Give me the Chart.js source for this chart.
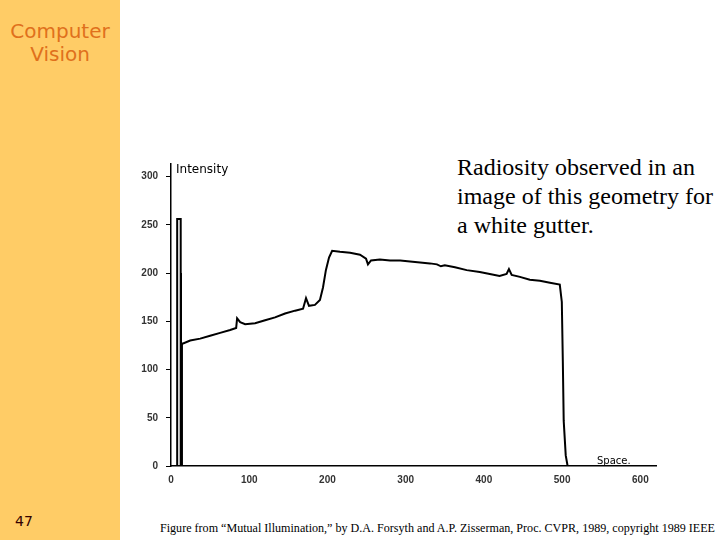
<!DOCTYPE html>
<html>
<head>
<meta charset="utf-8">
<script src="https://cdn.jsdelivr.net/npm/chart.js@4"></script>
<style>
  html, body { margin:0; padding:0; background:#ffffff; }
  body { width:720px; height:540px; position:relative; overflow:hidden; }
  #side { position:absolute; left:0; top:0; width:120px; height:540px; background:#FFCC66; }
  #title { position:absolute; left:0; top:20px; width:120px; text-align:center; font-family:"DejaVu Sans", sans-serif; font-size:20px; line-height:23px; color:#E0701C; }
  #page { position:absolute; left:15px; top:513px; font-family:"DejaVu Sans", sans-serif; font-size:14px; color:#330000; }
  #desc { position:absolute; left:457px; top:153px; width:262px; font-family:"Liberation Serif", serif; font-size:24px; line-height:29px; color:#000; }
  #cap { position:absolute; left:160px; top:521px; font-family:"Liberation Serif", serif; font-size:12.5px; white-space:nowrap; color:#000; transform-origin:0 0; }
  #wrap { position:absolute; left:120px; top:150px; width:560px; height:350px; }
  .lbl { position:absolute; font-family:"DejaVu Sans", sans-serif; color:#000; white-space:nowrap; }
</style>
</head>
<body>
<div id="side"></div>
<div id="title">Computer<br>Vision</div>
<div id="page">47</div>
<div id="desc">Radiosity observed in an image of this geometry for a white gutter.</div>
<div id="wrap"><canvas id="c" width="560" height="350"></canvas></div>
<div class="lbl" style="left:176px; top:162px; font-size:12px;">Intensity</div>
<div class="lbl" style="left:597px; top:455px; font-size:10px;">Space.</div>
<div id="cap">Figure from “Mutual Illumination,” by D.A. Forsyth and A.P. Zisserman, Proc. CVPR, 1989, copyright 1989 IEEE</div>
<script>
// Space positions and intensity values
const spaceMain = [14, 14, 15.6, 24.5, 37.3, 50, 62.8, 75.6, 83.3, 84.5, 88.4, 94.8, 107.5, 120.3, 133, 145.8, 158.6, 168.8, 172.6, 176.4, 184, 190.4, 194.3, 198, 202, 206, 216, 229, 241.6, 249.3, 251.8, 255.7, 267, 280, 293, 305.6, 318.4, 331, 340, 345, 350, 363, 378, 394.7, 407.5, 420, 429, 432, 435.5, 446, 458.7, 471.6, 484.4, 497, 499.6, 500.9, 502, 504.6, 507];
const intensityMain = [0, 127, 127, 130, 132, 135, 138, 141, 143, 153, 149, 147, 148, 151, 154, 158, 161, 163, 174, 166, 167, 172, 185, 203, 216, 223, 222, 221, 219, 215, 209, 213, 214, 213, 213, 212, 211, 210, 209, 207, 208, 206, 203, 201, 199, 197, 199, 204, 198, 196, 193, 192, 190, 188, 170, 108, 47, 11, 0];
const spaceSpike = [7.9, 7.9, 12.4, 12.4];
const intensitySpike = [0, 256, 256, 0];
const spaceThin = [13.2, 13.2];
const intensityThin = [200, 0];
const xTicks = [0, 100, 200, 300, 400, 500, 600];
const yTicks = [0, 50, 100, 150, 200, 250, 300];

const toPts = (xs, ys) => xs.map((x, i) => ({x: x, y: ys[i]}));
const tickFont = {family: "Liberation Sans", size: 10, weight: "bold"};

new Chart(document.getElementById('c'), {
  type: 'line',
  data: {
    datasets: [
      {data: toPts(spaceMain, intensityMain), borderColor: '#000', borderWidth: 2, pointRadius: 0, tension: 0},
      {data: toPts(spaceSpike, intensitySpike), borderColor: '#000', borderWidth: 2, pointRadius: 0, tension: 0},
      {data: toPts(spaceThin, intensityThin), borderColor: '#000', borderWidth: 1, pointRadius: 0, tension: 0}
    ]
  },
  options: {
    responsive: false,
    animation: false,
    layout: {padding: {top: 10, right: 24, left: 0, bottom: 0}},
    plugins: {legend: {display: false}, tooltip: {enabled: false}},
    scales: {
      x: {
        type: 'linear', min: 0, max: 620,
        afterBuildTicks: s => { s.ticks = xTicks.map(v => ({value: v})); },
        afterFit: s => { s.height = 34; },
        grid: {drawOnChartArea: false, drawTicks: false},
        border: {display: true, color: '#000', width: 1.5},
        ticks: {font: tickFont, color: '#333', padding: 8, maxRotation: 0}
      },
      y: {
        type: 'linear', min: 0, max: 313,
        afterBuildTicks: s => { s.ticks = yTicks.map(v => ({value: v})); },
        afterFit: s => { s.width = 51; },
        grid: {drawOnChartArea: false, drawTicks: true, tickLength: 5, color: '#000'},
        border: {display: true, color: '#000', width: 1.5},
        ticks: {font: tickFont, color: '#333', padding: 8}
      }
    }
  }
});

const cap = document.getElementById('cap');
const w = cap.getBoundingClientRect().width;
cap.style.transform = 'scaleX(' + (555 / w) + ')';
</script>
</body>
</html>
